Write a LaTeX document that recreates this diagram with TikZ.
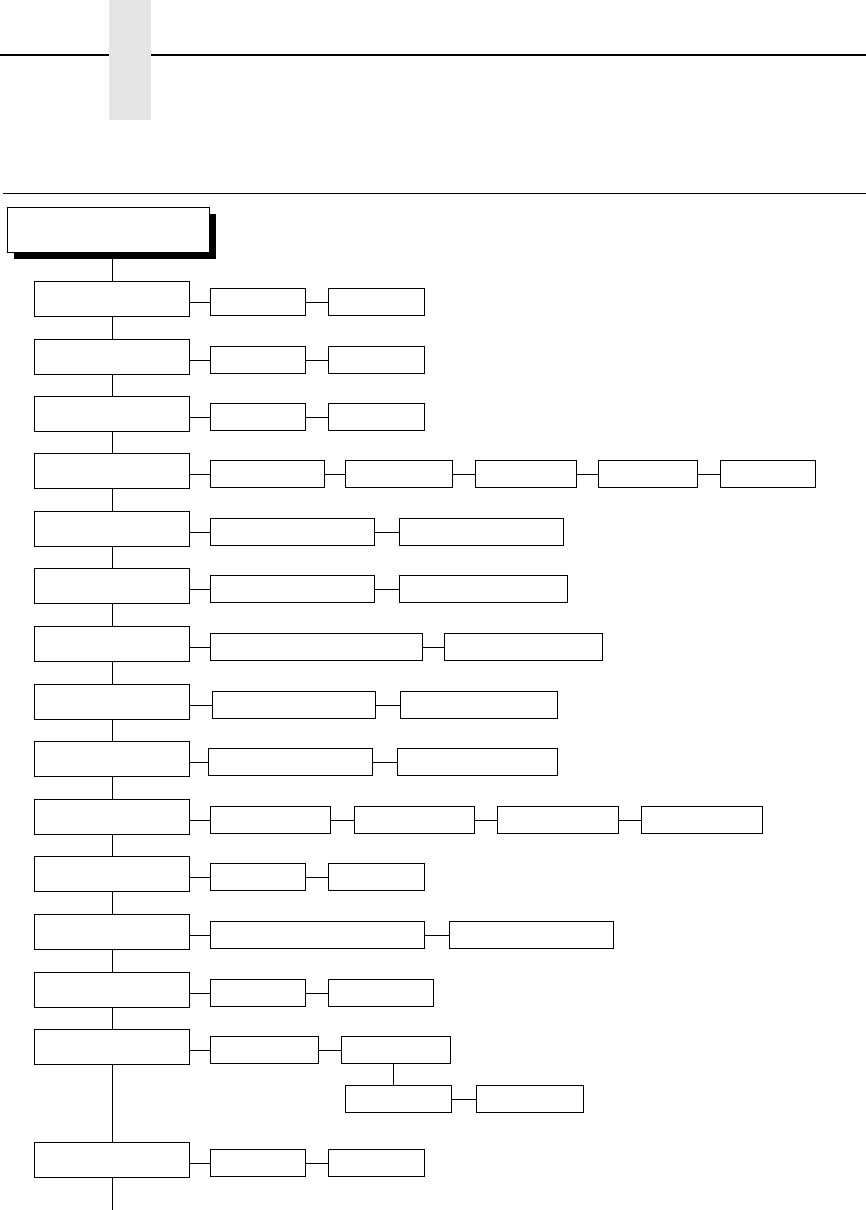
\documentclass[tikz,border=0pt]{standalone}
\usepackage{tikz}
\usetikzlibrary{shadows}

\tikzset{
  menubox/.style={draw, line width=1.3pt, inner sep=0pt, anchor=north west},
  leftbox/.style={menubox, minimum width=155pt, minimum height=35pt},
  subbox/.style={menubox, minimum height=27pt},
  link/.style={line width=1.3pt}
}

\begin{document}
\begin{tikzpicture}[x=1pt,y=-1pt]
		\useasboundingbox (0,0) rectangle (866,1210);
		% header rules and tab
		\draw [line width=2pt] (0,54.5) -- (866,54.5);
		\fill [black!10] (109,0) rectangle (151,120);
		\draw [line width=1pt] (3,193) -- (866,193);

		% top menu box
		\node [menubox, fill=white, minimum width=202pt, minimum height=45pt,
		       drop shadow={shadow xshift=6pt, shadow yshift=-6pt, fill=black, opacity=1}]
		      (top) at (7,207) {};

		% rows: number / top y / child boxes (left x / width)
		\foreach \r/\y/\items in {
		    1/281/{210/95,328/96},
		    2/339/{210/95,328/96},
		    3/396/{210/95,328/96},
		    4/453/{210/114,345/107,475/101,598/99,720/95},
		    5/511/{210/164,399/164},
		    6/568/{210/164,399/168},
		    7/626/{210/212,444/158},
		    8/684/{212/163,400/157},
		    9/741/{208/164,397/160},
		    10/799/{210/120,354/120,497/121,641/121},
		    11/856/{210/95,328/96},
		    12/914/{210/214,449/164},
		    13/972/{210/95,328/105},
		    14/1029/{210/108,341/109},
		    15/1142/{210/95,328/96}} {
		  \node [leftbox] (l\r) at (34,\y) {};
		  \foreach \cx/\cw [count=\c] in \items {
		    \node [subbox, minimum width=\cw pt] (c\r-\c) at (\cx,\y+7) {};
		    \ifnum\c=1
		      \draw [link] (l\r.east |- c\r-1.west) -- (c\r-1.west);
		    \else
		      \pgfmathtruncatemacro\p{\c-1}
		      \draw [link] (c\r-\p.east) -- (c\r-\c.west);
		    \fi
		  }
		}

		% second level under row 14
		\node [subbox, minimum width=106pt] (s1) at (345,1085) {};
		\node [subbox, minimum width=107pt] (s2) at (476,1085) {};
		\coordinate (drop) at (393.5,1085);
		\draw [link] (drop |- c14-2.south) -- (drop);
		\draw [link] (s1.east) -- (s2.west);

		% spine
		\draw [link] (top.south -| l1.north) -- (l1.north);
		\foreach \r [evaluate=\r as \n using int(\r+1)] in {1,...,14}
		  \draw [link] (l\r.south) -- (l\n.north);
		\coordinate (bottom) at (0,1210);
		\draw [link] (l15.south) -- (l15.south |- bottom);
\end{tikzpicture}
\end{document}
